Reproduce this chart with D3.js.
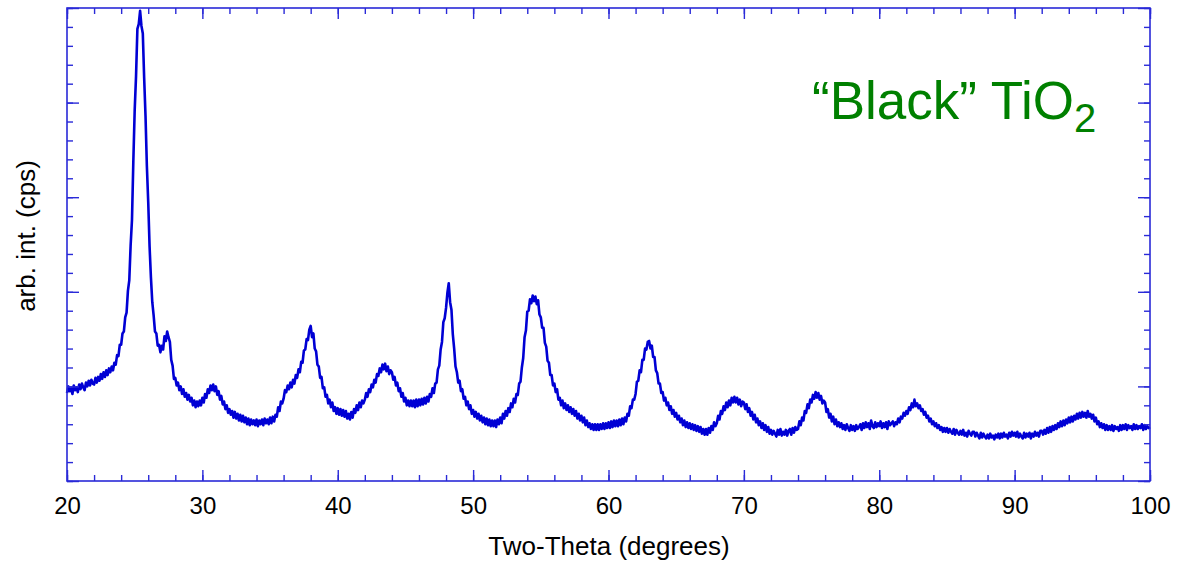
<!DOCTYPE html>
<html>
<head>
<meta charset="utf-8">
<script src="https://cdn.jsdelivr.net/npm/d3@7"></script>
<style>
  html, body { margin: 0; padding: 0; background: #fff; }
  svg { display: block; font-family: "Liberation Sans", Arial, sans-serif; }
</style>
</head>
<body>
<svg id="chart" width="1190" height="563"></svg>
<script>
// Powder XRD scan: two-theta from 20 to 100 degrees in 0.1 degree steps
const thetaStart = 20;
const thetaStep = 0.1;
const intensity = [
  93, 100, 95, 98, 92, 101, 96, 99, 94, 102,        // 20
  97, 103, 99, 96, 104, 100, 106, 101, 107, 103,
  102, 109, 104, 110, 106, 113, 108, 115, 110, 117,
  112, 119, 115, 121, 117, 125, 123, 133, 132, 144,
  144, 156, 158, 173, 178, 201, 212, 249, 276, 338,
  392, 428, 478, 483, 497, 481, 473, 426, 386, 333, // 25
  295, 248, 215, 189, 175, 158, 156, 143, 144, 136,
  143, 139, 153, 148, 158, 152, 147, 128, 122, 108,
  109, 101, 104, 96, 100, 92, 97, 89, 93, 86,
  91, 84, 88, 80, 85, 78, 84, 79, 85, 80,
  88, 83, 92, 88, 97, 93, 101, 96, 102, 95,         // 30
  100, 91, 95, 86, 90, 81, 84, 76, 80, 72,
  76, 70, 74, 67, 73, 66, 71, 64, 70, 63,
  69, 62, 67, 60, 66, 59, 65, 60, 64, 59,
  65, 58, 64, 60, 65, 59, 66, 61, 65, 60,
  67, 61, 68, 63, 70, 68, 78, 74, 84, 82,           // 35
  87, 96, 94, 101, 97, 104, 99, 107, 103, 112,
  109, 118, 115, 126, 125, 138, 139, 150, 149, 160,
  164, 152, 156, 140, 137, 123, 121, 109, 110, 98,
  99, 89, 91, 82, 86, 78, 83, 74, 78, 71,
  77, 70, 76, 69, 75, 68, 74, 66, 71, 65,           // 40
  73, 67, 76, 72, 80, 75, 83, 78, 85, 82,
  86, 93, 89, 97, 94, 102, 99, 107, 104, 113,
  111, 119, 115, 123, 118, 124, 116, 121, 113, 117,
  115, 107, 110, 101, 104, 95, 98, 89, 93, 84,
  88, 80, 85, 79, 85, 79, 85, 78, 86, 79,           // 45
  86, 80, 87, 81, 88, 82, 89, 84, 92, 89,
  98, 93, 103, 104, 118, 122, 139, 147, 168, 172,
  183, 199, 209, 189, 181, 155, 140, 121, 115, 104,
  106, 95, 97, 87, 89, 80, 84, 76, 80, 71,
  75, 68, 73, 66, 71, 64, 69, 62, 67, 60,           // 50
  66, 59, 65, 58, 64, 58, 64, 57, 65, 60,
  67, 61, 71, 66, 74, 69, 77, 73, 82, 78,
  87, 83, 92, 91, 103, 105, 120, 130, 152, 159,
  179, 180, 192, 188, 196, 190, 195, 187, 191, 176,
  173, 162, 162, 146, 142, 127, 125, 112, 112, 101, // 55
  103, 94, 97, 86, 88, 80, 85, 77, 82, 75,
  80, 73, 78, 71, 76, 69, 74, 66, 71, 64,
  69, 62, 67, 59, 64, 57, 61, 55, 60, 54,
  60, 54, 60, 54, 60, 55, 61, 55, 61, 56,
  62, 56, 63, 57, 64, 58, 64, 58, 65, 59,           // 60
  66, 60, 67, 63, 71, 69, 79, 77, 86, 86,
  92, 105, 106, 117, 115, 128, 128, 140, 139, 147,
  148, 140, 143, 131, 131, 117, 114, 103, 103, 93,
  94, 85, 88, 80, 83, 75, 79, 71, 75, 68,
  72, 65, 69, 62, 66, 59, 64, 57, 62, 56,           // 65
  61, 55, 60, 54, 59, 53, 58, 52, 57, 50,
  55, 49, 55, 49, 56, 51, 58, 54, 62, 58,
  61, 69, 65, 74, 71, 79, 75, 83, 78, 85,
  80, 88, 83, 89, 83, 88, 81, 86, 79, 84,
  83, 76, 81, 73, 77, 69, 73, 65, 70, 62,           // 70
  66, 59, 63, 56, 61, 54, 59, 52, 57, 50,
  54, 49, 53, 50, 47, 54, 49, 55, 48, 52,
  49, 54, 48, 53, 55, 49, 56, 51, 57, 54,
  55, 63, 59, 67, 64, 74, 72, 81, 77, 86,
  83, 91, 87, 94, 88, 93, 86, 90, 82, 85,           // 75
  83, 73, 76, 67, 71, 63, 68, 60, 65, 58,
  62, 57, 61, 55, 59, 54, 60, 56, 53, 59,
  54, 58, 53, 59, 55, 57, 60, 54, 61, 56,
  62, 57, 61, 55, 64, 58, 56, 62, 57, 61,
  58, 63, 56, 61, 57, 62, 55, 63, 59, 61,           // 80
  63, 58, 62, 60, 66, 62, 68, 66, 72, 69,
  74, 71, 78, 75, 82, 78, 86, 79, 82, 77,
  80, 74, 76, 70, 73, 67, 69, 63, 66, 60,
  63, 58, 61, 56, 59, 54, 57, 52, 56, 52,
  56, 51, 55, 52, 50, 55, 49, 54, 51, 49,           // 85
  53, 49, 54, 48, 51, 47, 53, 50, 48, 52,
  52, 47, 51, 48, 45, 51, 46, 50, 47, 45,
  49, 45, 50, 46, 48, 44, 49, 46, 50, 45,
  50, 46, 51, 47, 49, 45, 51, 47, 52, 48,
  51, 47, 52, 46, 50, 47, 45, 51, 46, 50,           // 90
  47, 51, 45, 50, 47, 52, 48, 51, 47, 53,
  53, 49, 54, 50, 56, 51, 57, 52, 58, 54,
  59, 55, 61, 57, 63, 58, 64, 59, 65, 61,
  67, 62, 68, 63, 69, 65, 71, 66, 72, 67,
  73, 68, 72, 67, 74, 68, 71, 66, 70, 63,           // 95
  67, 60, 63, 57, 61, 56, 60, 54, 59, 54,
  58, 54, 59, 53, 58, 55, 57, 53, 59, 54,
  59, 55, 60, 54, 59, 56, 58, 54, 60, 55,
  59, 55, 58, 56, 60, 54, 59, 55, 58, 56,
  57                                                // 100
];

// Axis ticks
const xMajorTicks = [20, 30, 40, 50, 60, 70, 80, 90, 100];
const xMinorTicks = d3.range(20, 101, 2);
const yMajorTicks = [0, 100, 200, 300, 400, 500];
const yMinorTicks = d3.range(0, 501, 20);

const xTitle = "Two-Theta (degrees)";
const yTitle = "arb. int. (cps)";

const frameColor = "#2a2ad8";
const lineColor = "#0000d4";

const svg = d3.select("#chart");
const plotLeft = 67, plotRight = 1150, plotTop = 8, plotBottom = 481;

const x = d3.scaleLinear().domain([20, 100]).range([plotLeft, plotRight]);
const y = d3.scaleLinear().domain([0, 500]).range([plotBottom, plotTop]);

const points = intensity.map((v, i) => [thetaStart + i * thetaStep, v]);

// Data trace
svg.append("path")
  .datum(points)
  .attr("fill", "none")
  .attr("stroke", lineColor)
  .attr("stroke-width", 2.6)
  .attr("stroke-linejoin", "round")
  .attr("d", d3.line().x(d => x(d[0])).y(d => y(d[1])));

// Inward-facing ticks on all four sides
function styleAxis(g) {
  g.select(".domain").remove();
  g.selectAll(".tick line").attr("stroke", frameColor).attr("stroke-width", 1.4);
}

svg.append("g").attr("transform", `translate(0,${plotBottom})`)
  .call(d3.axisBottom(x).tickValues(xMinorTicks).tickSize(-6).tickFormat(""))
  .call(styleAxis);
svg.append("g").attr("transform", `translate(0,${plotBottom})`)
  .call(d3.axisBottom(x).tickValues(xMajorTicks).tickSize(-11).tickPadding(16).tickFormat(d3.format("d")))
  .call(styleAxis)
  .call(g => g.selectAll("text").attr("fill", "#000").attr("font-size", 24)
    .attr("font-family", "Liberation Sans, Arial, sans-serif"));

svg.append("g").attr("transform", `translate(0,${plotTop})`)
  .call(d3.axisTop(x).tickValues(xMinorTicks).tickSize(-6).tickFormat(""))
  .call(styleAxis);
svg.append("g").attr("transform", `translate(0,${plotTop})`)
  .call(d3.axisTop(x).tickValues(xMajorTicks).tickSize(-11).tickFormat(""))
  .call(styleAxis);

svg.append("g").attr("transform", `translate(${plotLeft},0)`)
  .call(d3.axisLeft(y).tickValues(yMinorTicks).tickSize(-6).tickFormat(""))
  .call(styleAxis);
svg.append("g").attr("transform", `translate(${plotLeft},0)`)
  .call(d3.axisLeft(y).tickValues(yMajorTicks).tickSize(-12).tickFormat(""))
  .call(styleAxis);

svg.append("g").attr("transform", `translate(${plotRight},0)`)
  .call(d3.axisRight(y).tickValues(yMinorTicks).tickSize(-6).tickFormat(""))
  .call(styleAxis);
svg.append("g").attr("transform", `translate(${plotRight},0)`)
  .call(d3.axisRight(y).tickValues(yMajorTicks).tickSize(-12).tickFormat(""))
  .call(styleAxis);

// Plot frame
svg.append("rect")
  .attr("x", plotLeft).attr("y", plotTop)
  .attr("width", plotRight - plotLeft).attr("height", plotBottom - plotTop)
  .attr("fill", "none")
  .attr("stroke", frameColor)
  .attr("stroke-width", 1.6);

// Axis titles
svg.append("text")
  .attr("x", 609).attr("y", 555)
  .attr("text-anchor", "middle")
  .attr("font-size", 26)
  .attr("fill", "#000")
  .text(xTitle);

svg.append("text")
  .attr("transform", "translate(35,236) rotate(-90)")
  .attr("text-anchor", "middle")
  .attr("font-size", 26)
  .attr("fill", "#000")
  .text(yTitle);

// Sample label
const label = svg.append("text")
  .attr("x", 812).attr("y", 119)
  .attr("font-size", 53)
  .attr("fill", "#008000");
label.append("tspan").text("\u201CBlack\u201D TiO");
label.append("tspan").attr("dy", 13).attr("font-size", 40).text("2");
</script>
</body>
</html>
